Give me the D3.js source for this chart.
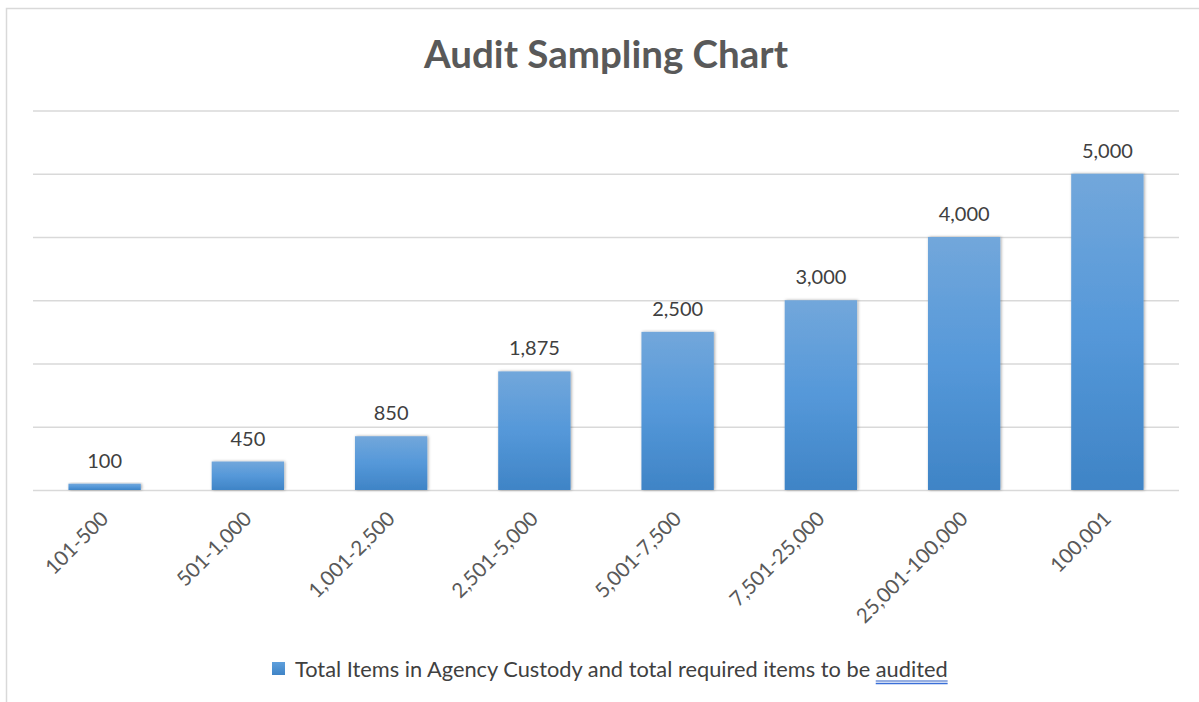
<!DOCTYPE html>
<html>
<head>
<meta charset="utf-8">
<script src="https://cdn.jsdelivr.net/npm/d3@7/dist/d3.min.js"></script>
<style>
  html, body { margin: 0; padding: 0; background: #fff; }
  svg { display: block; }
  text { font-family: Lato, "Open Sans", sans-serif; }
</style>
</head>
<body>
<svg id="chart" width="1199" height="702"></svg>
<script>
const categories = ["101-500", "501-1,000", "1,001-2,500", "2,501-5,000", "5,001-7,500", "7,501-25,000", "25,001-100,000", "100,001"];
const values = [100, 450, 850, 1875, 2500, 3000, 4000, 5000];
const yTicks = [0, 1000, 2000, 3000, 4000, 5000, 6000];
const title = "Audit Sampling Chart";
const legendLabel = "Total Items in Agency Custody and total required items to be ";
const legendUnderlined = "audited";

const svg = d3.select("#chart");
const W = 1199, H = 702;
const plot = { left: 33, right: 1179, top: 110.5, bottom: 490 };

// frame
svg.append("rect")
  .attr("x", 6.5).attr("y", 8.5)
  .attr("width", W + 10).attr("height", H + 10)
  .attr("fill", "#fff").attr("stroke", "#d9d9d9").attr("stroke-width", 1.5);

const defs = svg.append("defs");
const grad = defs.append("linearGradient").attr("id", "barGrad")
  .attr("x1", 0).attr("y1", 0).attr("x2", 0).attr("y2", 1);
grad.append("stop").attr("offset", "0%").attr("stop-color", "#72a7db");
grad.append("stop").attr("offset", "50%").attr("stop-color", "#5598d9");
grad.append("stop").attr("offset", "100%").attr("stop-color", "#3f84c6");
const shadow = defs.append("filter").attr("id", "shadow")
  .attr("x", "-20%").attr("y", "-20%").attr("width", "140%").attr("height", "140%");
shadow.append("feDropShadow").attr("dx", 1).attr("dy", 0).attr("stdDeviation", 1.5)
  .attr("flood-color", "#000").attr("flood-opacity", 0.35);

const legendGrad = defs.append("linearGradient").attr("id", "legGrad")
  .attr("x1", 0).attr("y1", 0).attr("x2", 0).attr("y2", 1);
legendGrad.append("stop").attr("offset", "0%").attr("stop-color", "#5e9fdc");
legendGrad.append("stop").attr("offset", "100%").attr("stop-color", "#3f84c6");

const x = d3.scaleBand().domain(categories).range([plot.left, plot.right]).paddingInner(0.495).paddingOuter(0.2475);
const y = d3.scaleLinear().domain([0, 6000]).range([plot.bottom, plot.top]);

// gridlines
const grid = svg.append("g").attr("class", "grid")
  .call(d3.axisLeft(y).tickValues(yTicks).tickSize(-(plot.right - plot.left)).tickFormat(""))
  .attr("transform", `translate(${plot.left},0)`);
grid.select(".domain").remove();
grid.selectAll(".tick line").attr("stroke", "#d9d9d9").attr("stroke-width", 1.3);

// title
svg.append("text")
  .attr("x", 606).attr("y", 68)
  .attr("text-anchor", "middle")
  .attr("font-size", 38.5).attr("font-weight", "bold")
  .attr("fill", "#595959")
  .text(title);

// bars
svg.append("g").selectAll("rect")
  .data(values)
  .join("rect")
  .attr("x", (d, i) => x(categories[i]))
  .attr("y", d => y(d))
  .attr("width", x.bandwidth())
  .attr("height", d => y(0) - y(d))
  .attr("fill", "url(#barGrad)")
  .attr("filter", "url(#shadow)");

// value labels
const fmt = d3.format(",");
svg.append("g").selectAll("text")
  .data(values)
  .join("text")
  .attr("x", (d, i) => x(categories[i]) + x.bandwidth() / 2)
  .attr("y", d => y(d) - 16)
  .attr("text-anchor", "middle")
  .attr("font-size", 20)
  .attr("fill", "#404040")
  .text(d => fmt(d));

// x axis labels
const xAxis = svg.append("g")
  .attr("transform", `translate(0,${plot.bottom})`)
  .call(d3.axisBottom(x).tickSize(0).tickPadding(0));
xAxis.select(".domain").remove();
xAxis.selectAll(".tick text")
  .attr("font-family", "Lato, 'Open Sans', sans-serif")
  .attr("font-size", 20.5)
  .attr("fill", "#595959")
  .attr("text-anchor", "end")
  .attr("dy", 0)
  .attr("transform", "translate(5,30) rotate(-45)");

// legend
const leg = svg.append("g");
leg.append("rect").attr("x", 272).attr("y", 662).attr("width", 13).attr("height", 13)
  .attr("fill", "url(#legGrad)");
const lt = leg.append("text").attr("id", "legtext").attr("x", 295).attr("y", 677)
  .attr("font-size", 21.8).attr("fill", "#404040");
lt.append("tspan").text(legendLabel);
lt.append("tspan").attr("class", "ul").text(legendUnderlined);
</script>
<script>
(function(){
  const t = document.getElementById("legtext");
  const ul = t.querySelector(".ul");
  const bb = ul.getBBox();
  const g = d3.select(t.parentNode);
  g.append("line").attr("x1", bb.x).attr("x2", bb.x + bb.width)
    .attr("y1", 681).attr("y2", 681).attr("stroke", "#2f5fc4").attr("stroke-width", 1);
  g.append("line").attr("x1", bb.x).attr("x2", bb.x + bb.width)
    .attr("y1", 683.5).attr("y2", 683.5).attr("stroke", "#3a6fd8").attr("stroke-width", 1.5);
})();
</script>
</body>
</html>
